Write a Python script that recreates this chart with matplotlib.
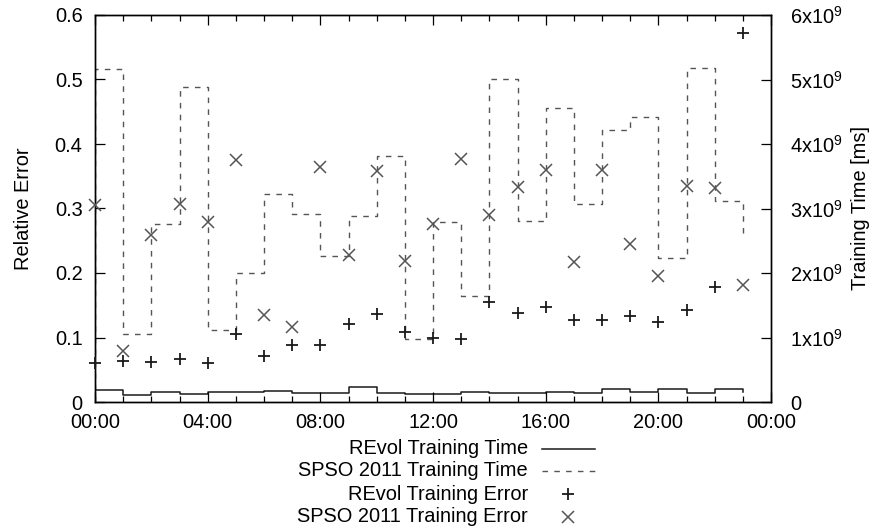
import numpy as np
import matplotlib
matplotlib.use('Agg')
import matplotlib.pyplot as plt
from matplotlib.lines import Line2D
from matplotlib.ticker import MultipleLocator, FuncFormatter

plt.rcParams['font.family'] = ['Liberation Sans', 'DejaVu Sans']
plt.rcParams['mathtext.fontset'] = 'custom'
plt.rcParams['mathtext.rm'] = 'Liberation Sans'
plt.rcParams['mathtext.it'] = 'Liberation Sans:italic'
plt.rcParams['font.size'] = 14.4

# hourly samples over one day
hours = np.arange(24)

# training time in ms (right axis)
revol_time = np.array([1.80, 1.10, 1.55, 1.20, 1.55, 1.55, 1.75, 1.45, 1.45, 2.30, 1.40, 1.20,
                       1.20, 1.55, 1.35, 1.35, 1.55, 1.45, 2.05, 1.55, 2.05, 1.45, 1.95, 1.60]) * 1e8
spso_time = np.array([5.17, 1.05, 2.76, 4.89, 1.12, 2.00, 3.23, 2.92, 2.27, 2.88, 3.82, 0.98,
                      2.79, 1.65, 5.01, 2.81, 4.56, 3.07, 4.22, 4.42, 2.23, 5.18, 3.12, 2.62]) * 1e9

# relative error (left axis)
revol_err = [0.060, 0.063, 0.062, 0.066, 0.060, 0.105, 0.072, 0.089, 0.089, 0.121, 0.137, 0.108,
             0.100, 0.097, 0.155, 0.138, 0.147, 0.127, 0.127, 0.133, 0.124, 0.143, 0.179, 0.572]
spso_err = [0.306, 0.079, 0.259, 0.307, 0.279, 0.375, 0.135, 0.116, 0.364, 0.228, 0.358, 0.218,
            0.276, 0.377, 0.290, 0.333, 0.359, 0.217, 0.359, 0.245, 0.195, 0.335, 0.332, 0.182]

labels = ['REvol Training Time', 'SPSO 2011 Training Time',
          'REvol Training Error', 'SPSO 2011 Training Error']

dark = '#1a1a1a'
grey = '#555555'

fig = plt.figure(figsize=(8.75, 5.27), dpi=100)
ax = fig.add_axes([95/875, 1 - 402/527, 676/875, 387/527])
ax2 = ax.twinx()

# step lines start from zero at 00:00, like gnuplot 'steps'
tx = np.concatenate([[0], hours])
ax2.step(tx, np.concatenate([[0], revol_time]), where='post', color=dark, lw=1.1)
ax2.step(tx, np.concatenate([[0], spso_time]), where='post', color=grey, lw=1.0, dashes=(4, 4.5))

ax.plot(hours, revol_err, ls='none', marker='+', ms=9, mew=1.3, color=dark, clip_on=False, zorder=5)
ax.plot(hours, spso_err, ls='none', marker='x', ms=8, mew=1.1, color=grey, clip_on=False, zorder=5)
ax.set_zorder(ax2.get_zorder() + 1)
ax.patch.set_visible(False)

ax.set_xlim(0, 24)
ax.set_ylim(0, 0.6)
ax2.set_ylim(0, 6e9)

ax.xaxis.set_major_locator(MultipleLocator(4))
ax.xaxis.set_minor_locator(MultipleLocator(1))
ax.xaxis.set_major_formatter(FuncFormatter(lambda v, p: '%02d:00' % (int(v) % 24)))
ax.yaxis.set_major_locator(MultipleLocator(0.1))
ax.yaxis.set_major_formatter(FuncFormatter(lambda v, p: '0' if abs(v) < 1e-9 else '%.1f' % v))
ax2.yaxis.set_major_locator(MultipleLocator(1e9))
ax2.yaxis.set_major_formatter(FuncFormatter(
    lambda v, p: '0' if abs(v) < 1 else r'$\mathrm{%dx10^{9}}$' % round(v / 1e9)))

ax.tick_params(axis='x', which='both', direction='in', top=True, pad=8)
ax.tick_params(axis='x', which='major', length=7, width=0.9)
ax.tick_params(axis='x', which='minor', length=4, width=0.9)
ax.tick_params(axis='y', direction='in', length=7, width=0.9, pad=9, right=False)
ax2.tick_params(axis='y', direction='in', length=7, width=0.9, pad=14)

for a in (ax, ax2):
    for s in a.spines.values():
        s.set_linewidth(1.0)
        s.set_color('black')

ax.set_ylabel('Relative Error')
ax.yaxis.set_label_coords(-0.092, 0.5)
ax2.set_ylabel('Training Time [ms]')
ax2.yaxis.set_label_coords(1.119, 0.5)

# legend below the plot, text right-aligned with sample on the right
rows = [449, 471, 494, 517]
for lab, yy in zip(labels, rows):
    fig.text(528/875, 1 - yy/527, lab, ha='right', va='center')
fy = [1 - r/527 for r in rows]
fig.add_artist(Line2D([542/875, 595/875], [fy[0], fy[0]], color=dark, lw=1.1))
fig.add_artist(Line2D([542/875, 595/875], [fy[1], fy[1]], color=grey, lw=1.0, dashes=(4, 4.5)))
fig.add_artist(Line2D([568/875], [fy[2]], marker='+', ms=9, mew=1.3, color=dark))
fig.add_artist(Line2D([568/875], [fy[3]], marker='x', ms=8, mew=1.1, color=grey))

fig.savefig('out.png', dpi=100)
